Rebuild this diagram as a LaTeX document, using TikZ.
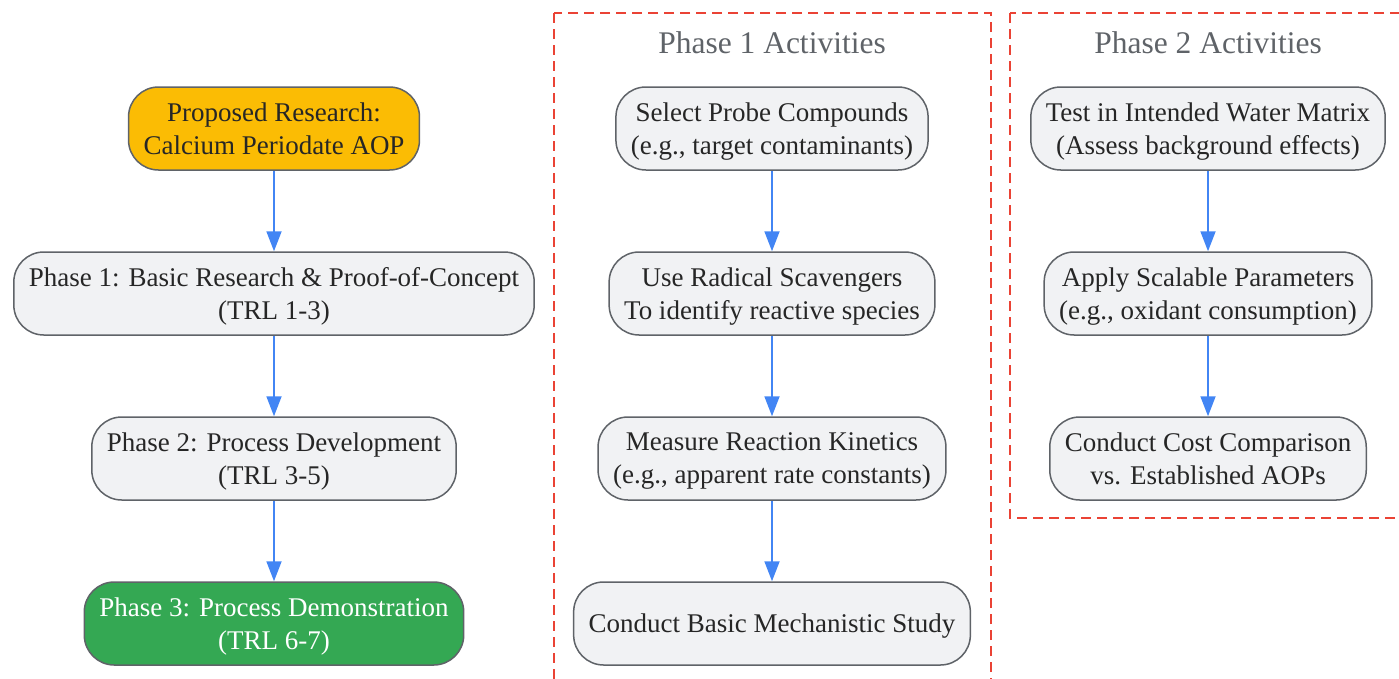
\documentclass[tikz,border=0pt]{standalone}
\usepackage{fontspec}
\setmainfont{Liberation Serif}
\usetikzlibrary{arrows.meta}
\definecolor{boxgray}{HTML}{F1F2F4}
\definecolor{edgegray}{HTML}{5F6368}
\definecolor{gyellow}{HTML}{FBBC04}
\definecolor{ggreen}{HTML}{34A853}
\definecolor{gblue}{HTML}{4285F4}
\definecolor{gred}{HTML}{EA4335}

\begin{document}
\begin{tikzpicture}[x=1pt,y=-1pt,
    box/.style={draw=edgegray,line width=1.5pt,fill=boxgray,rounded corners=30pt,
        minimum height=83pt,inner xsep=15pt,align=center,text depth=0pt,
        font=\fontsize{27}{33}\selectfont,text=black!85},
    flow/.style={draw=gblue,line width=1.8pt,-{Triangle[length=20pt,width=15pt]}},
    group/.style={draw=gred,line width=1.8pt,dash pattern=on 10pt off 6pt},
    grouptitle/.style={text=edgegray,font=\fontsize{31.5}{36}\selectfont}]
            \clip (0,0) rectangle (1399,678);
            \draw[group] (554,13) rectangle (991,700);
            \draw[group] (1010,13) rectangle (1420,518);
            \node[grouptitle] (t1) at (772,43) {Phase 1 Activities};
            \node[grouptitle] (t2) at (1208,43) {Phase 2 Activities};
            \node[box,fill=gyellow] (prop) at (274,128.5) {Proposed Research:\\Calcium Periodate AOP};
            \node[box] (ph1) at (274,293.5) {Phase 1: Basic Research \& Proof-of-Concept\\(TRL 1-3)};
            \node[box] (ph2) at (274,458.5) {Phase 2: Process Development\\(TRL 3-5)};
            \node[box,fill=ggreen,text=white] (ph3) at (274,623.5) {Phase 3: Process Demonstration\\(TRL 6-7)};
            \node[box] (a1) at (772,128.5) {Select Probe Compounds\\(e.g., target contaminants)};
            \node[box] (a2) at (772,293.5) {Use Radical Scavengers\\To identify reactive species};
            \node[box] (a3) at (772,458.5) {Measure Reaction Kinetics\\(e.g., apparent rate constants)};
            \node[box] (a4) at (772,623.5) {Conduct Basic Mechanistic Study};
            \node[box] (b1) at (1208,128.5) {Test in Intended Water Matrix\\(Assess background effects)};
            \node[box] (b2) at (1208,293.5) {Apply Scalable Parameters\\(e.g., oxidant consumption)};
            \node[box] (b3) at (1208,458.5) {Conduct Cost Comparison\\vs. Established AOPs};
            \draw[flow] (prop) -- (ph1);
            \draw[flow] (ph1) -- (ph2);
            \draw[flow] (ph2) -- (ph3);
            \draw[flow] (a1) -- (a2);
            \draw[flow] (a2) -- (a3);
            \draw[flow] (a3) -- (a4);
            \draw[flow] (b1) -- (b2);
            \draw[flow] (b2) -- (b3);
        \end{tikzpicture}
\end{document}
